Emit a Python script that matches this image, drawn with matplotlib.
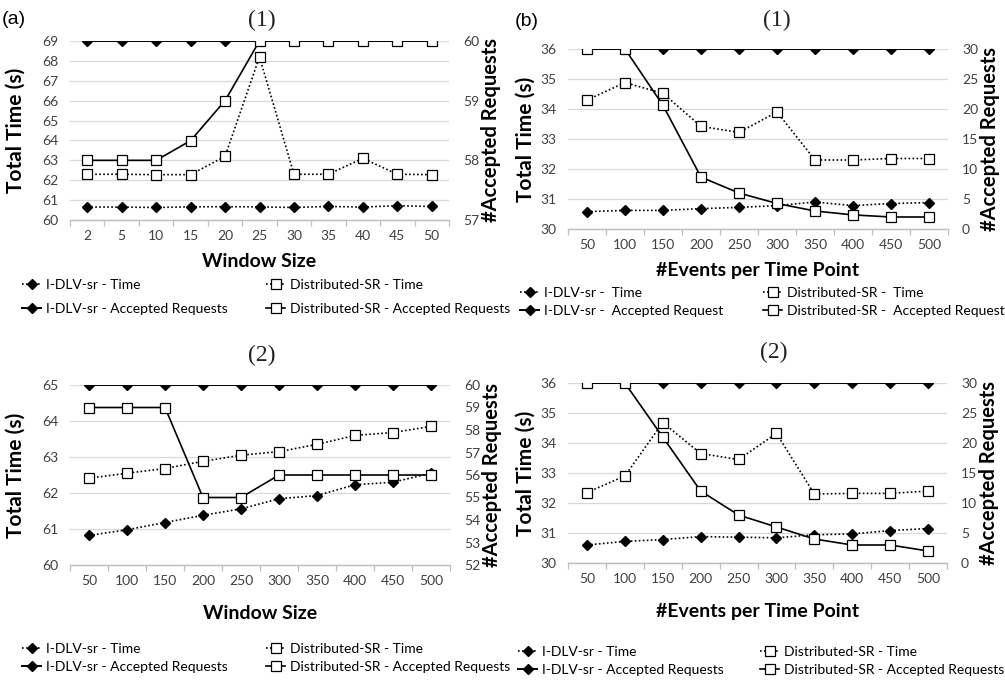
import numpy as np
import matplotlib
matplotlib.use("Agg")
import matplotlib.pyplot as plt

plt.rcParams['font.family'] = ['Lato', 'DejaVu Sans']

# === Data ===
# (a)(1) window size, small
win_small = ['2', '5', '10', '15', '20', '25', '30', '35', '40', '45', '50']
idlv_time_a1 = [60.65, 60.65, 60.63, 60.66, 60.67, 60.66, 60.63, 60.68, 60.65, 60.72, 60.68]
dsr_time_a1 = [62.30, 62.30, 62.28, 62.28, 63.20, 68.20, 62.30, 62.30, 63.10, 62.30, 62.28]
idlv_acc_a1 = [60, 60, 60, 60, 60, 60, 60, 60, 60, 60, 60]
dsr_acc_a1 = [58, 58, 58, 58.33, 59, 60, 60, 60, 60, 60, 60]

# (b)(1) events per time point
events = ['50', '100', '150', '200', '250', '300', '350', '400', '450', '500']
idlv_time_b1 = [30.58, 30.62, 30.62, 30.68, 30.72, 30.78, 30.90, 30.78, 30.85, 30.88]
dsr_time_b1 = [34.30, 34.88, 34.52, 33.42, 33.22, 33.90, 32.30, 32.30, 32.35, 32.35]
idlv_acc_b1 = [30, 30, 30, 30, 30, 30, 30, 30, 30, 30]
dsr_acc_b1 = [30, 30, 20.6, 8.65, 6.0, 4.25, 3.0, 2.35, 2.0, 2.0]

# (a)(2) window size, large
win_large = ['50', '100', '150', '200', '250', '300', '350', '400', '450', '500']
idlv_time_a2 = [60.82, 60.98, 61.18, 61.38, 61.56, 61.84, 61.93, 62.23, 62.30, 62.55]
dsr_time_a2 = [62.41, 62.55, 62.68, 62.88, 63.05, 63.15, 63.35, 63.60, 63.68, 63.85]
idlv_acc_a2 = [60, 60, 60, 60, 60, 60, 60, 60, 60, 60]
dsr_acc_a2 = [59, 59, 59, 55, 55, 56, 56, 56, 56, 56]

# (b)(2) events per time point
idlv_time_b2 = [30.60, 30.72, 30.78, 30.88, 30.86, 30.84, 30.94, 30.97, 31.08, 31.15]
dsr_time_b2 = [32.35, 32.90, 34.68, 33.65, 33.45, 34.32, 32.30, 32.32, 32.32, 32.40]
idlv_acc_b2 = [30, 30, 30, 30, 30, 30, 30, 30, 30, 30]
dsr_acc_b2 = [30, 30, 21, 12, 8, 6, 4, 3, 3, 2]

W, H = 1005, 681
fig = plt.figure(figsize=(W / 100, H / 100), dpi=100)

DOT = (0, (1, 1.4))
TICK_C = '#404040'


def px_rect(l, t, r, b):
    return [l / W, 1 - b / H, (r - l) / W, (b - t) / H]


def draw_panel(rect, labels, it, dt, ia, da, ylim, ystep, ylim2, ystep2,
               title, title_xy, xlabel, xlabel_pad, ylabel_pad,
               legend_texts, leg_x, leg_y, leg_gap):
    ax = fig.add_axes(px_rect(*rect))
    ax2 = ax.twinx()
    x = np.arange(len(labels))

    h1, = ax.plot(x, it, linestyle=DOT, color='black', lw=1.2,
                  marker='D', ms=5, mfc='black', mec='black')
    h2, = ax.plot(x, dt, linestyle=DOT, color='black', lw=1.2,
                  marker='s', ms=7, mfc='white', mec='black', mew=0.9)
    h3, = ax2.plot(x, ia, linestyle='-', color='black', lw=1.4,
                   marker='D', ms=5, mfc='black', mec='black')
    h4, = ax2.plot(x, da, linestyle='-', color='black', lw=1.2,
                   marker='s', ms=7, mfc='white', mec='black', mew=0.9)

    ax.set_xlim(-0.5, len(labels) - 0.5)
    ax.set_ylim(*ylim)
    ax.set_yticks(np.arange(ylim[0], ylim[1] + 0.01, ystep))
    ax2.set_ylim(*ylim2)
    ax2.set_yticks(np.arange(ylim2[0], ylim2[1] + 0.01, ystep2))
    ax.grid(axis='y', color='#d9d9d9', lw=0.9)
    ax.set_axisbelow(True)

    ax.set_xticks(x)
    ax.set_xticklabels(labels)
    ax.set_xticks(np.arange(-0.5, len(labels)), minor=True)
    ax.tick_params(axis='x', which='major', length=0, pad=7, labelsize=10, labelcolor=TICK_C)
    ax.tick_params(axis='x', which='minor', length=4, color='#bfbfbf', width=0.9)
    ax.tick_params(axis='y', length=0, pad=8.5, labelsize=10, labelcolor=TICK_C)
    ax2.tick_params(axis='y', length=0, pad=10, labelsize=10, labelcolor=TICK_C)

    for a in (ax, ax2):
        for s in ('top', 'left', 'right'):
            a.spines[s].set_visible(False)
        a.spines['bottom'].set_color('#bfbfbf')
        a.spines['bottom'].set_linewidth(0.9)

    ax.set_ylabel('Total Time (s)', fontsize=15, fontweight='bold', labelpad=ylabel_pad)
    ax2.set_ylabel('#Accepted Requests', fontsize=14.5, fontweight='bold', labelpad=1.5)
    ax.set_xlabel(xlabel, fontsize=14, fontweight='bold', labelpad=xlabel_pad)

    fig.text(title_xy[0] / W, 1 - title_xy[1] / H, title, family='Liberation Serif',
             fontsize=17, ha='center', va='center', color='#222222')

    handles = [[h1, h3], [h2, h4]]
    texts = [[legend_texts[0], legend_texts[2]], [legend_texts[1], legend_texts[3]]]
    for k in range(2):
        fig.legend(handles[k], texts[k], loc='upper left',
                   bbox_to_anchor=(leg_x[k] / W, 1 - leg_y / H), frameon=False,
                   fontsize=10, handlelength=1.4, handletextpad=0.3,
                   labelspacing=leg_gap, borderpad=0, borderaxespad=0)


leg_a = ['I-DLV-sr - Time', 'Distributed-SR - Time',
         'I-DLV-sr - Accepted Requests', 'Distributed-SR - Accepted Requests']
leg_b1 = ['I-DLV-sr -  Time', 'Distributed-SR -  Time',
          'I-DLV-sr -  Accepted Request', 'Distributed-SR -  Accepted Request']

draw_panel((70, 41, 449, 220), win_small, idlv_time_a1, dsr_time_a1, idlv_acc_a1, dsr_acc_a1,
           (60, 69), 1, (57, 60), 1, '(1)', (262, 20), 'Window Size', 8, 12,
           leg_a, (22, 266), 279, 0.85)
draw_panel((568, 49, 948, 229), events, idlv_time_b1, dsr_time_b1, idlv_acc_b1, dsr_acc_b1,
           (30, 36), 1, (0, 30), 5, '(1)', (777, 20), '#Events per Time Point', 8, 3,
           leg_b1, (520, 763), 287, 0.45)
draw_panel((70, 385, 450, 565), win_large, idlv_time_a2, dsr_time_a2, idlv_acc_a2, dsr_acc_a2,
           (60, 65), 1, (52, 60), 1, '(2)', (262, 355), 'Window Size', 13.5, 12,
           leg_a, (22, 266), 643, 0.4)
draw_panel((568, 383, 947, 563), events, idlv_time_b2, dsr_time_b2, idlv_acc_b2, dsr_acc_b2,
           (30, 36), 1, (0, 30), 5, '(2)', (774, 352), '#Events per Time Point', 13.5, 3,
           leg_a, (518, 760), 646, 0.4)

fig.text(2 / W, 1 - 20 / H, '(a)', family='Liberation Sans', fontsize=14, ha='left', va='center')
fig.text(515 / W, 1 - 21 / H, '(b)', family='Liberation Sans', fontsize=14, ha='left', va='center')

fig.savefig('out.png', dpi=100)
